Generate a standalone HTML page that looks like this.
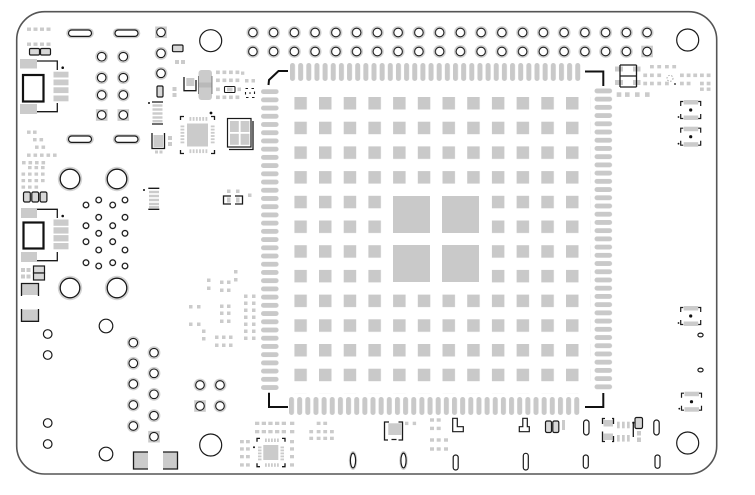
<!DOCTYPE html>
<html><head><meta charset="utf-8"><title>PCB layout</title>
<style>
html,body{margin:0;padding:0;background:#fff;width:755px;height:495px;overflow:hidden}
svg{display:block}
.g{fill:#cbcbcb}
.k{fill:none;stroke:#1a1a1a;stroke-width:1.3}
.w{fill:#fff;stroke:#1a1a1a;stroke-width:1.2}
.c{fill:#d8d8d8;stroke:#1a1a1a;stroke-width:1.2}
</style></head><body>
<svg width="755" height="495" viewBox="0 0 755 495" xmlns="http://www.w3.org/2000/svg">
<defs>
<pattern id="pt" x="290" y="63" width="8.15" height="18" patternUnits="userSpaceOnUse"><rect width="5" height="18" rx="2.5" fill="#c9c9c9"/></pattern>
<pattern id="pb" x="289" y="397" width="8.15" height="18" patternUnits="userSpaceOnUse"><rect width="5" height="18" rx="2.5" fill="#c9c9c9"/></pattern>
<pattern id="pl" x="261" y="89.2" width="17.6" height="8.22" patternUnits="userSpaceOnUse"><rect width="17.6" height="4.8" rx="2.4" fill="#c9c9c9"/></pattern>
<pattern id="pr" x="594.5" y="88.5" width="17.6" height="8.22" patternUnits="userSpaceOnUse"><rect width="17.6" height="4.8" rx="2.4" fill="#c9c9c9"/></pattern>
<pattern id="gr" x="294.3" y="97" width="24.7" height="24.7" patternUnits="userSpaceOnUse"><rect width="12.5" height="12.5" fill="#c9c9c9"/></pattern>
<pattern id="hp" x="242.5" y="23" width="20.75" height="19" patternUnits="userSpaceOnUse"><circle cx="10.375" cy="9.5" r="6.4" fill="#d0d0d0"/><circle cx="10.375" cy="9.5" r="4.3" fill="#fff" stroke="#1a1a1a" stroke-width="1.1"/></pattern>
<g id="pin"><circle r="6.4" fill="#d0d0d0"/><circle r="4.3" fill="#fff" stroke="#1a1a1a" stroke-width="1.1"/></g>
<g id="sq"><rect x="-5.8" y="-5.8" width="11.6" height="11.6" fill="#cbcbcb"/><circle r="4.3" fill="#fff" stroke="#1a1a1a" stroke-width="1.1"/></g>
<g id="hole"><circle r="12.2" fill="#d4d4d4"/><circle r="9.8" fill="#fff" stroke="#1a1a1a" stroke-width="1.3"/></g>
<g id="sc"><circle r="3.9" fill="#e2e2e2"/><circle r="2.8" fill="#fff" stroke="#1a1a1a" stroke-width="1.2"/></g>
<g id="rc">
<rect x="-7" y="-10" width="14.5" height="4.5" fill="#cbcbcb"/>
<rect x="-7" y="5.5" width="14.5" height="4.5" fill="#cbcbcb"/>
<path d="M-10,-4 V-8.5 H-7.5 M7.5,-8.5 H10 V-4 M-10,4 V8.5 H-7.5 M7.5,8.5 H10 V4" fill="none" stroke="#1a1a1a" stroke-width="1.2"/>
<circle r="1.6" fill="#111"/><circle cx="-12.2" cy="7" r="0.9" fill="#111"/>
</g>
</defs>
<rect width="755" height="495" fill="#fff"/>
<!-- board outline -->
<rect x="16.7" y="11.7" width="700" height="462.3" rx="28" fill="none" stroke="#555" stroke-width="1.6"/>

<!-- header -->
<rect x="242.5" y="23" width="415" height="38" fill="url(#hp)"/>
<rect x="640.5" y="45.3" width="13" height="12.4" fill="#fff"/>
<use href="#sq" x="647.1" y="51.5"/>

<!-- main chip -->
<rect x="290" y="63" width="291" height="18" fill="url(#pt)"/>
<rect x="289" y="397" width="291" height="18" fill="url(#pb)"/>
<rect x="261" y="89.2" width="17.6" height="301" fill="url(#pl)"/>
<rect x="594.5" y="88.5" width="17.6" height="301" fill="url(#pr)"/>
<rect x="294.3" y="97" width="296.4" height="296.4" fill="url(#gr)"/>
<rect x="390" y="193" width="92" height="92" fill="#fff"/>
<rect x="393" y="196" width="37" height="37" fill="#c9c9c9"/>
<rect x="442" y="196" width="37" height="37" fill="#c9c9c9"/>
<rect x="393" y="245" width="37" height="37" fill="#c9c9c9"/>
<rect x="442" y="245" width="37" height="37" fill="#c9c9c9"/>
<g fill="none" stroke="#111" stroke-width="2">
<polyline points="268.5,85 269,80 278.5,71 288,71"/>
<polyline points="585,71.5 603.3,71.5 603.3,86"/>
<polyline points="603.3,393 603.3,407 585,407"/>
<polyline points="269,392.7 269,407 288,407"/>
</g>

<!-- top-left small squares -->
<g class="g">
<rect x="27" y="27.5" width="4" height="3.4"/><rect x="33.5" y="27.5" width="4" height="3.4"/><rect x="40" y="27.5" width="4" height="3.4"/><rect x="46.5" y="27.5" width="4" height="3.4"/>
<rect x="27" y="42.5" width="4" height="3.4"/><rect x="33.5" y="42.5" width="4" height="3.4"/><rect x="40" y="42.5" width="4" height="3.4"/><rect x="46.5" y="42.5" width="4" height="3.4"/>
</g>
<rect class="c" x="29.5" y="48.5" width="10" height="6.5" rx="1.2"/>
<rect class="c" x="40.5" y="48.5" width="10" height="6.5" rx="1.2"/>

<!-- J1 -->
<rect class="g" x="20" y="59" width="17" height="9.5"/>
<rect class="g" x="20" y="104" width="17" height="10"/>
<rect x="23" y="75" width="20.5" height="26.5" fill="#fff" stroke="#111" stroke-width="2.2"/>
<g class="g"><rect x="53.5" y="71.7" width="15" height="5.8"/><rect x="53.5" y="79.5" width="15" height="5.8"/><rect x="53.5" y="87.3" width="15" height="5.8"/><rect x="53.5" y="95.5" width="15" height="5.8"/></g>
<path class="k" d="M37,61 H57.3 V70 M37,111.7 H57.3 V103"/>
<circle cx="62.7" cy="67.7" r="1.3" fill="#111"/>

<!-- slots -->
<g>
<rect class="g" x="66.3" y="28.2" width="27.5" height="10" rx="5"/><rect class="w" x="68.5" y="30" width="23" height="6.4" rx="3.2"/>
<rect class="g" x="112.8" y="28.2" width="27.5" height="10" rx="5"/><rect class="w" x="115" y="30" width="23" height="6.4" rx="3.2"/>
<rect class="g" x="66.3" y="134.2" width="27.5" height="10" rx="5"/><rect class="w" x="68.5" y="136" width="23" height="6.4" rx="3.2"/>
<rect class="g" x="112.8" y="134.2" width="27.5" height="10" rx="5"/><rect class="w" x="115" y="136" width="23" height="6.4" rx="3.2"/>
</g>

<!-- left pin cluster -->
<use href="#pin" x="101.7" y="56.7"/><use href="#pin" x="123.3" y="56.7"/>
<use href="#pin" x="101.7" y="77.7"/><use href="#pin" x="123.3" y="77.7"/>
<use href="#pin" x="101.7" y="95"/><use href="#pin" x="123.3" y="95"/>
<use href="#sq" x="101.7" y="115"/><use href="#sq" x="123.3" y="115"/>
<use href="#sq" x="161" y="32.3"/><use href="#pin" x="161" y="53.3"/><use href="#pin" x="161" y="73.3"/>

<!-- small parts top-left -->
<rect class="c" x="172.5" y="45" width="10.5" height="6.7" rx="1.2"/>
<rect class="g" x="175" y="60" width="4" height="4"/><rect class="g" x="181" y="60" width="4" height="4"/>
<rect class="c" x="157" y="86" width="6" height="11" rx="1.2"/>
<rect class="g" x="172.5" y="87" width="4" height="4"/><rect class="g" x="172.5" y="93" width="4" height="4"/>
<!-- IC 1 -->
<circle cx="149" cy="103" r="1" fill="#111"/>
<path class="k" d="M152,102 H163 M152,124 H163" stroke-width="1"/>
<g class="g"><rect x="152.5" y="104.3" width="10" height="2.4"/><rect x="152.5" y="108.3" width="10" height="2.4"/><rect x="152.5" y="112.3" width="10" height="2.4"/><rect x="152.5" y="116.3" width="10" height="2.4"/><rect x="152.5" y="120" width="10" height="2.4"/></g>
<!-- diode -->
<rect class="g" x="153.5" y="135" width="9.5" height="12"/>
<path class="k" d="M152,133 V148.5 H164.5 V133" stroke-width="1.5"/>
<rect class="g" x="155" y="150.5" width="3" height="3"/><rect class="g" x="159.5" y="150.5" width="3" height="3"/>
<rect class="g" x="168" y="136" width="4" height="4"/><rect class="g" x="168" y="142" width="4" height="4"/>
<!-- U bracket + inductor -->
<rect class="g" x="186.3" y="78" width="8" height="8"/>
<path class="k" d="M184,77 V90.7 H196 V80" stroke-width="1.5"/>
<rect class="g" x="198.5" y="70" width="13.5" height="30" rx="3"/>
<rect x="198.5" y="82.5" width="13.5" height="5" fill="#b9b9b9"/>
<path d="M198.5,76 V94 M212,76 V94" stroke="#666" stroke-width="0.8"/>
<g class="g">
<rect x="216" y="70.5" width="3.8" height="3.6"/><rect x="222.5" y="70.5" width="3.8" height="3.6"/><rect x="229" y="70.5" width="3.8" height="3.6"/><rect x="235.5" y="70.5" width="3.8" height="3.6"/><rect x="241" y="71.5" width="3.3" height="3.3"/>
<rect x="216" y="78.5" width="3.8" height="3.6"/><rect x="222.5" y="78.5" width="3.8" height="3.6"/><rect x="229" y="78.5" width="3.8" height="3.6"/><rect x="235.5" y="78.5" width="3.8" height="3.6"/><rect x="245" y="79" width="3.5" height="3.5"/><rect x="251.5" y="79" width="3.5" height="3.5"/>
<rect x="216" y="87.5" width="3.8" height="3.6"/><rect x="237.5" y="87.5" width="3.5" height="3.6"/>
<rect x="216" y="95.5" width="3.8" height="3.6"/><rect x="222.5" y="95.5" width="3.8" height="3.6"/><rect x="229" y="95.5" width="3.8" height="3.6"/><rect x="235.5" y="95.5" width="3.8" height="3.6"/>
</g>
<rect x="224.5" y="86.5" width="10.5" height="6" fill="#fff" stroke="#1a1a1a" stroke-width="1.1" rx="1"/>
<rect class="g" x="227" y="87.5" width="5.5" height="4"/>
<rect x="245.5" y="88.5" width="9" height="9" fill="none" stroke="#1a1a1a" stroke-width="1.1" stroke-dasharray="2.5 3.5"/>
<circle cx="250" cy="93" r="0.8" fill="#111"/>
<!-- QFN 1 -->
<rect class="g" x="187" y="123.5" width="21" height="23"/>
<g class="g">
<rect x="189.5" y="117" width="1.8" height="3.8"/><rect x="192.7" y="117" width="1.8" height="3.8"/><rect x="195.9" y="117" width="1.8" height="3.8"/><rect x="199.1" y="117" width="1.8" height="3.8"/><rect x="202.3" y="117" width="1.8" height="3.8"/><rect x="205.5" y="117" width="1.8" height="3.8"/>
<rect x="189.5" y="149.3" width="1.8" height="3.8"/><rect x="192.7" y="149.3" width="1.8" height="3.8"/><rect x="195.9" y="149.3" width="1.8" height="3.8"/><rect x="199.1" y="149.3" width="1.8" height="3.8"/><rect x="202.3" y="149.3" width="1.8" height="3.8"/><rect x="205.5" y="149.3" width="1.8" height="3.8"/>
<rect x="180.5" y="125.5" width="3.8" height="1.8"/><rect x="180.5" y="128.7" width="3.8" height="1.8"/><rect x="180.5" y="131.9" width="3.8" height="1.8"/><rect x="180.5" y="135.1" width="3.8" height="1.8"/><rect x="180.5" y="138.3" width="3.8" height="1.8"/><rect x="180.5" y="141.5" width="3.8" height="1.8"/>
<rect x="210.8" y="125.5" width="3.8" height="1.8"/><rect x="210.8" y="128.7" width="3.8" height="1.8"/><rect x="210.8" y="131.9" width="3.8" height="1.8"/><rect x="210.8" y="135.1" width="3.8" height="1.8"/><rect x="210.8" y="138.3" width="3.8" height="1.8"/><rect x="210.8" y="141.5" width="3.8" height="1.8"/>
</g>
<path class="k" d="M180.5,120 V116.5 H184 M211,116.5 H214.5 V120 M180.5,150 V153.5 H184 M211,153.5 H214.5 V150" stroke-width="1.4"/>
<circle cx="211" cy="113" r="1.4" fill="#111"/>
<!-- cross part -->
<rect x="227.5" y="118.5" width="23.5" height="28.5" fill="#fff" stroke="#1a1a1a" stroke-width="1.2"/>
<g class="g"><rect x="230" y="121" width="8.8" height="11"/><rect x="240.6" y="121" width="8.8" height="11"/><rect x="230" y="133.8" width="8.8" height="11"/><rect x="240.6" y="133.8" width="8.8" height="11"/></g>
<path class="k" d="M253,121 V149.5 H229" stroke-width="1.8"/>

<!-- left lower squares -->
<g class="g">
<rect x="27" y="130.5" width="3.6" height="3.4"/><rect x="33" y="130.5" width="3.6" height="3.4"/>
<rect x="33" y="138" width="3.6" height="3.4"/><rect x="39.5" y="138" width="3.6" height="3.4"/>
<rect x="35" y="145.5" width="3.6" height="3.4"/><rect x="41.5" y="145.5" width="3.6" height="3.4"/>
<rect x="27" y="153.5" width="3.6" height="3.4"/><rect x="33.5" y="153.5" width="3.6" height="3.4"/><rect x="40" y="153.5" width="3.6" height="3.4"/><rect x="46.5" y="153.5" width="3.6" height="3.4"/><rect x="53" y="153.5" width="3.6" height="3.4"/>
<rect x="22" y="161" width="3.6" height="3.4"/><rect x="28.5" y="161" width="3.6" height="3.4"/><rect x="35" y="161" width="3.6" height="3.4"/><rect x="41.5" y="161" width="3.6" height="3.4"/>
<rect x="28" y="166" width="3.6" height="3.2"/><rect x="34.5" y="166" width="3.6" height="3.2"/><rect x="41" y="166" width="3.6" height="3.2"/>
<rect x="21.5" y="172.5" width="3.6" height="3.2"/><rect x="28" y="172.5" width="3.6" height="3.2"/><rect x="34.5" y="172.5" width="3.6" height="3.2"/><rect x="41" y="172.5" width="3.6" height="3.2"/>
<rect x="21.5" y="179" width="3.6" height="3.2"/><rect x="28" y="179" width="3.6" height="3.2"/><rect x="34.5" y="179" width="3.6" height="3.2"/><rect x="41" y="179" width="3.6" height="3.2"/>
<rect x="21.5" y="185.5" width="3.6" height="3.2"/><rect x="28" y="185.5" width="3.6" height="3.2"/><rect x="34.5" y="185.5" width="3.6" height="3.2"/>
</g>
<rect class="c" x="23.5" y="192" width="6.8" height="10" rx="1.5"/>
<rect class="c" x="31.8" y="192" width="6.8" height="10" rx="1.5"/>
<rect class="c" x="40.1" y="192" width="6.8" height="10" rx="1.5"/>

<!-- J2 -->
<rect class="g" x="21" y="208" width="16" height="10"/>
<rect class="g" x="21" y="252" width="16" height="10"/>
<rect x="23.5" y="222.5" width="20" height="26" fill="#fff" stroke="#111" stroke-width="2.2"/>
<g class="g"><rect x="53.5" y="219.5" width="15" height="6.3"/><rect x="53.5" y="227.3" width="15" height="6.3"/><rect x="53.5" y="235.1" width="15" height="6.3"/><rect x="53.5" y="243" width="15" height="6.3"/></g>
<path class="k" d="M37,209.3 H57.3 V218 M37,260.7 H57.3 V252"/>
<circle cx="62.7" cy="216" r="1.3" fill="#111"/>
<rect class="c" x="33.5" y="266" width="11" height="7"/>
<rect class="c" x="33.5" y="273" width="11" height="7"/>
<g class="g"><rect x="21" y="268" width="4" height="4"/><rect x="26.5" y="268" width="4" height="4"/><rect x="21" y="274.5" width="4" height="4"/><rect x="26.5" y="274.5" width="4" height="4"/></g>
<rect class="g" x="22" y="284" width="16" height="11"/>
<path class="k" d="M21.5,296 V283.5 H38.5 V296"/>
<rect class="g" x="22" y="309.5" width="16" height="11"/>
<path class="k" d="M21.5,309 V321.3 H38.5 V309"/>

<!-- RJ style holes -->
<use href="#hole" x="70" y="179"/><use href="#hole" x="117" y="179"/>
<use href="#hole" x="70" y="288"/><use href="#hole" x="117" y="288"/>
<use href="#sc" x="86" y="205"/><use href="#sc" x="98.7" y="200"/><use href="#sc" x="112.7" y="205"/><use href="#sc" x="125" y="200"/>
<use href="#sc" x="98.7" y="217.3"/><use href="#sc" x="125" y="217.3"/>
<use href="#sc" x="86" y="225.7"/><use href="#sc" x="112.7" y="225.7"/>
<use href="#sc" x="98.7" y="233.3"/><use href="#sc" x="125" y="233.3"/>
<use href="#sc" x="86" y="241.7"/><use href="#sc" x="112.7" y="241.7"/>
<use href="#sc" x="98.7" y="250"/><use href="#sc" x="125" y="250"/>
<use href="#sc" x="86" y="262.7"/><use href="#sc" x="98.7" y="266"/><use href="#sc" x="112.7" y="262.7"/><use href="#sc" x="125" y="266"/>

<!-- IC 2 -->
<circle cx="144" cy="190" r="1" fill="#111"/>
<path class="k" d="M148.3,188.3 H159.3 M148.3,209.3 H159.3" stroke-width="1"/>
<g class="g"><rect x="149" y="190.8" width="10" height="2.4"/><rect x="149" y="194.8" width="10" height="2.4"/><rect x="149" y="198.8" width="10" height="2.4"/><rect x="149" y="202.8" width="10" height="2.4"/><rect x="149" y="206" width="10" height="2.2"/></g>
<!-- part near 233,200 -->
<g class="g"><rect x="227" y="189.5" width="3.5" height="3.5"/><rect x="236" y="189.5" width="3.5" height="3.5"/><rect x="248" y="193.5" width="3.5" height="3.5"/>
<rect x="227" y="197.5" width="3.5" height="5"/><rect x="236" y="197.5" width="3.5" height="5"/></g>
<path class="k" d="M231,196 H223.5 V204 H231 M235,196 H242.5 V204 H235" stroke-width="1.4"/>

<!-- scattered squares middle -->
<g class="g">
<rect x="234" y="270" width="3.5" height="3.5"/><rect x="207" y="278.5" width="3.5" height="3.5"/><rect x="220" y="280.5" width="3.5" height="3.5"/><rect x="227" y="280.5" width="3.5" height="3.5"/><rect x="234" y="278" width="3.5" height="3.5"/>
<rect x="207" y="286.5" width="3.5" height="3.5"/><rect x="220" y="288.5" width="3.5" height="3.5"/><rect x="227" y="288.5" width="3.5" height="3.5"/>
<rect x="244" y="294.5" width="3.5" height="3.5"/><rect x="252" y="294.5" width="3.5" height="3.5"/><rect x="244" y="301.5" width="3.5" height="3.5"/><rect x="252" y="301.5" width="3.5" height="3.5"/>
<rect x="189" y="305" width="3.5" height="3.5"/><rect x="197" y="305" width="3.5" height="3.5"/><rect x="220" y="304.5" width="3.5" height="3.5"/><rect x="227" y="304.5" width="3.5" height="3.5"/>
<rect x="220" y="311.5" width="3.5" height="3.5"/><rect x="227" y="311.5" width="3.5" height="3.5"/><rect x="244" y="308.5" width="3.5" height="3.5"/><rect x="252" y="308.5" width="3.5" height="3.5"/>
<rect x="220" y="319.5" width="3.5" height="3.5"/><rect x="227" y="319.5" width="3.5" height="3.5"/><rect x="244" y="315.5" width="3.5" height="3.5"/><rect x="252" y="315.5" width="3.5" height="3.5"/>
<rect x="189" y="322.5" width="3.5" height="3.5"/><rect x="197" y="322.5" width="3.5" height="3.5"/><rect x="202" y="329.5" width="3.5" height="3.5"/><rect x="202" y="337" width="3.5" height="3.5"/>
<rect x="215" y="335.5" width="3.5" height="3.5"/><rect x="222" y="335.5" width="3.5" height="3.5"/><rect x="229" y="335.5" width="3.5" height="3.5"/>
<rect x="215" y="343.5" width="3.5" height="3.5"/><rect x="222" y="343.5" width="3.5" height="3.5"/><rect x="229" y="343.5" width="3.5" height="3.5"/>
<rect x="244" y="322.5" width="3.5" height="3.5"/><rect x="252" y="322.5" width="3.5" height="3.5"/>
<rect x="244" y="329.5" width="3.5" height="3.5"/><rect x="252" y="329.5" width="3.5" height="3.5"/><rect x="244" y="336.5" width="3.5" height="3.5"/><rect x="252" y="336.5" width="3.5" height="3.5"/>
</g>

<!-- plain circles left -->
<g class="w">
<circle cx="47.7" cy="334" r="4.3"/><circle cx="47.7" cy="355" r="4.3"/><circle cx="47.7" cy="423" r="4.3"/><circle cx="47.7" cy="444" r="4.3"/>
<circle cx="106" cy="326" r="6.8"/><circle cx="106" cy="454" r="6.8"/>
</g>
<!-- lower pin columns -->
<use href="#pin" x="133.3" y="342.7"/><use href="#pin" x="133.3" y="363.3"/><use href="#pin" x="133.3" y="384"/><use href="#pin" x="133.3" y="405"/><use href="#pin" x="133.3" y="426"/>
<use href="#pin" x="154" y="352.7"/><use href="#pin" x="154" y="373.3"/><use href="#pin" x="154" y="394.3"/><use href="#pin" x="154" y="415.7"/><use href="#sq" x="154" y="436.7"/>
<use href="#pin" x="200" y="385"/><use href="#pin" x="220" y="385"/><use href="#sq" x="200" y="406"/><use href="#pin" x="220" y="406"/>
<!-- bottom pads -->
<rect class="g" x="134" y="452.5" width="14" height="16"/>
<path class="k" d="M148,452 H133.5 V469 H148"/>
<rect class="g" x="163" y="452.5" width="14" height="16"/>
<path class="k" d="M163,452 H177.5 V469 H163"/>

<!-- mounting holes -->
<g class="w">
<circle cx="210.7" cy="40.7" r="11"/><circle cx="210.7" cy="445" r="11"/>
<circle cx="687.7" cy="40" r="11"/><circle cx="687.7" cy="443" r="11"/>
</g>

<!-- bottom area -->
<g class="g">
<rect x="255" y="421.7" width="4.3" height="3.3"/><rect x="261.7" y="421.7" width="4.3" height="3.3"/><rect x="268.3" y="421.7" width="4.3" height="3.3"/><rect x="275" y="421.7" width="4.3" height="3.3"/><rect x="281.7" y="421.7" width="4.3" height="3.3"/><rect x="290" y="421.7" width="4.3" height="3.3"/>
<rect x="255" y="430" width="4.3" height="3.3"/><rect x="261.7" y="430" width="4.3" height="3.3"/><rect x="268.3" y="430" width="4.3" height="3.3"/><rect x="275" y="430" width="4.3" height="3.3"/><rect x="281.7" y="430" width="4.3" height="3.3"/><rect x="290" y="430" width="4.3" height="3.3"/>
<rect x="240" y="440" width="3.8" height="3.3"/><rect x="246" y="440" width="3.8" height="3.3"/><rect x="240" y="447.3" width="3.8" height="3.3"/><rect x="246" y="447.3" width="3.8" height="3.3"/>
<rect x="240" y="455" width="3.8" height="3.3"/><rect x="246" y="455" width="3.8" height="3.3"/><rect x="240" y="463.3" width="3.8" height="3.3"/><rect x="246" y="463.3" width="3.8" height="3.3"/>
<rect x="290" y="440" width="4" height="3.3"/><rect x="290" y="447.3" width="4" height="3.3"/><rect x="290" y="455" width="4" height="3.3"/><rect x="290" y="463.3" width="4" height="3.3"/>
<rect x="263.3" y="445" width="15" height="15"/>
<rect x="265" y="438.5" width="1.8" height="3.5"/><rect x="268" y="438.5" width="1.8" height="3.5"/><rect x="271" y="438.5" width="1.8" height="3.5"/><rect x="274" y="438.5" width="1.8" height="3.5"/><rect x="277" y="438.5" width="1.8" height="3.5"/>
<rect x="265" y="463.3" width="1.8" height="3.5"/><rect x="268" y="463.3" width="1.8" height="3.5"/><rect x="271" y="463.3" width="1.8" height="3.5"/><rect x="274" y="463.3" width="1.8" height="3.5"/><rect x="277" y="463.3" width="1.8" height="3.5"/>
<rect x="258" y="446.5" width="3.5" height="1.8"/><rect x="258" y="449.5" width="3.5" height="1.8"/><rect x="258" y="452.5" width="3.5" height="1.8"/><rect x="258" y="455.5" width="3.5" height="1.8"/><rect x="258" y="458.5" width="3.5" height="1.8"/>
<rect x="280.5" y="446.5" width="3.5" height="1.8"/><rect x="280.5" y="449.5" width="3.5" height="1.8"/><rect x="280.5" y="452.5" width="3.5" height="1.8"/><rect x="280.5" y="455.5" width="3.5" height="1.8"/><rect x="280.5" y="458.5" width="3.5" height="1.8"/>
<rect x="316.7" y="421.7" width="3.8" height="3.3"/><rect x="323.3" y="421.7" width="3.8" height="3.3"/>
<rect x="309.3" y="430" width="3.8" height="3.3"/><rect x="316.7" y="430" width="3.8" height="3.3"/><rect x="323.3" y="430" width="3.8" height="3.3"/><rect x="330" y="430" width="3.8" height="3.3"/>
<rect x="309.3" y="436.7" width="3.8" height="3.3"/><rect x="316.7" y="436.7" width="3.8" height="3.3"/><rect x="323.3" y="436.7" width="3.8" height="3.3"/><rect x="330" y="436.7" width="3.8" height="3.3"/>
<rect x="388.3" y="423.3" width="13" height="11.7"/>
<rect x="405" y="421.7" width="3.4" height="3.4"/><rect x="412.7" y="421.7" width="3.4" height="3.4"/>
<rect x="430" y="418.3" width="4" height="3.4"/><rect x="436.7" y="418.3" width="4" height="3.4"/>
<rect x="430" y="426.7" width="4" height="3.4"/><rect x="436.7" y="426.7" width="4" height="3.4"/>
<rect x="430" y="438.3" width="4" height="3.4"/><rect x="436.7" y="438.3" width="4" height="3.4"/><rect x="444" y="438.3" width="4" height="3.4"/>
<rect x="430" y="447.3" width="4" height="3.4"/><rect x="436.7" y="447.3" width="4" height="3.4"/><rect x="444" y="447.3" width="4" height="3.4"/>
</g>
<path class="k" d="M257,441.7 V438.4 H260 M282,438.4 H285 V441.7 M257,463.3 V466.7 H260 M282,466.7 H285 V463.3" stroke-width="1.4"/>
<circle cx="254" cy="447.3" r="1" fill="#111"/>
<path class="k" d="M389,422 H384.5 V440 H388 M398.5,422 H402.5 V440 H398.5 M391.5,439.5 H396.5" stroke-width="1.4"/>
<!-- ovals -->
<ellipse cx="353" cy="460.5" rx="4.2" ry="9.5" fill="#cfcfcf"/>
<ellipse class="w" cx="353" cy="460.5" rx="2.6" ry="7.4"/>
<ellipse cx="403.5" cy="460.5" rx="4.2" ry="9.5" fill="#cfcfcf"/>
<ellipse class="w" cx="403.5" cy="460.5" rx="2.6" ry="7.4"/>
<g class="w">
<rect x="453.2" y="455" width="5" height="15" rx="2.5"/>
<rect x="523.3" y="453.3" width="5" height="16.7" rx="2.5"/>
<rect x="583.3" y="455" width="5" height="13.3" rx="2.5"/>
<rect x="655" y="455" width="5" height="13.3" rx="2.5"/>
<rect x="583.6" y="420" width="5.4" height="15" rx="2.7"/>
<rect x="653.8" y="420" width="5.4" height="15" rx="2.7"/>
<ellipse cx="700.5" cy="335" rx="2.6" ry="1.9"/>
<ellipse cx="700.5" cy="370" rx="2.6" ry="1.9"/>
<path d="M452.7,431.7 V418.3 H457.3 V426.7 H463.3 V431.7 Z"/>
<path d="M519.3,431.7 V426.7 H522.8 V418.3 H527.3 V426.7 H529.3 V431.7 Z"/>
</g>
<rect class="c" x="545.5" y="421" width="6" height="11.5" rx="1.5"/>
<rect class="c" x="552.8" y="421" width="6" height="11.5" rx="1.5"/>
<rect class="g" x="562" y="420" width="3" height="10"/>
<!-- part near 602-643 -->
<g class="g">
<rect x="603.5" y="420" width="9.5" height="6.5"/><rect x="603.5" y="433.5" width="9.5" height="6.5"/>
<rect x="617" y="421.7" width="2.7" height="6.6"/><rect x="622" y="421.7" width="2.7" height="6.6"/><rect x="627" y="421.7" width="2.7" height="6.6"/>
<rect x="617" y="435" width="2.7" height="6.6"/><rect x="622" y="435" width="2.7" height="6.6"/><rect x="627" y="435" width="2.7" height="6.6"/>
<rect x="637" y="431" width="4" height="4.5"/><rect x="637" y="437.5" width="4" height="4.5"/>
</g>
<path class="k" d="M602.5,424 V418.5 H605 M612,418.5 H613.5 V424 M602.5,431.5 V441.5 H605 M612,441.5 H613.5 V436 M633.3,423 V437" stroke-width="1.2"/>
<rect class="c" x="635" y="417.5" width="7.5" height="11" rx="1.5"/>
<circle cx="633.3" cy="422.7" r="1.1" fill="#111"/>

<!-- right side parts -->
<use href="#rc" x="690.7" y="110"/>
<use href="#rc" x="690.7" y="136.7"/>
<use href="#rc" x="690.7" y="316"/>
<use href="#rc" x="691.5" y="401.7"/>

<!-- top-right I part -->
<g class="g"><rect x="615" y="66.5" width="8" height="5"/><rect x="615" y="80" width="8" height="5"/><rect x="633" y="66.5" width="7.5" height="5"/><rect x="633" y="80" width="7.5" height="5"/>
<rect x="616.7" y="92.3" width="4.6" height="4.6"/><rect x="625" y="92.3" width="4.6" height="4.6"/><rect x="635" y="92.3" width="4.6" height="4.6"/><rect x="645" y="92.3" width="4.6" height="4.6"/>
<rect x="650" y="65" width="3.8" height="3.4"/><rect x="657.3" y="65" width="3.8" height="3.4"/><rect x="665" y="65" width="3.8" height="3.4"/><rect x="672.3" y="65" width="3.8" height="3.4"/>
<rect x="643.3" y="73.5" width="3.8" height="3.6"/><rect x="650" y="73.5" width="3.8" height="3.6"/><rect x="657.3" y="73.5" width="3.8" height="3.6"/>
<rect x="680" y="73.5" width="3.8" height="3.6"/><rect x="686.7" y="73.5" width="3.8" height="3.6"/><rect x="693.3" y="73.5" width="3.8" height="3.6"/><rect x="700" y="73.5" width="3.8" height="3.6"/><rect x="706.7" y="73.5" width="3.8" height="3.6"/>
<rect x="643.3" y="81.7" width="3.8" height="3.6"/><rect x="650" y="81.7" width="3.8" height="3.6"/><rect x="657.3" y="81.7" width="3.8" height="3.6"/><rect x="665" y="81.7" width="3.8" height="3.6"/><rect x="680" y="81.7" width="3.8" height="3.6"/><rect x="686.7" y="81.7" width="3.8" height="3.6"/><rect x="700" y="81.7" width="3.8" height="3.6"/><rect x="706.7" y="81.7" width="3.8" height="3.6"/>
<rect x="700" y="87.5" width="3.8" height="3.4"/><rect x="706.7" y="87.5" width="3.8" height="3.4"/>
</g>
<path class="k" d="M620,65 V87 M636.5,65 V87 M620,65 H636.5 M620,76 H636.5 M620,87 H636.5" stroke-width="1.3"/>
<circle cx="670" cy="78.3" r="3" fill="none" stroke="#aaa" stroke-width="1" stroke-dasharray="1.5 1.5"/>
<circle cx="675" cy="84" r="0.9" fill="#111"/>
</svg>
</body></html>
